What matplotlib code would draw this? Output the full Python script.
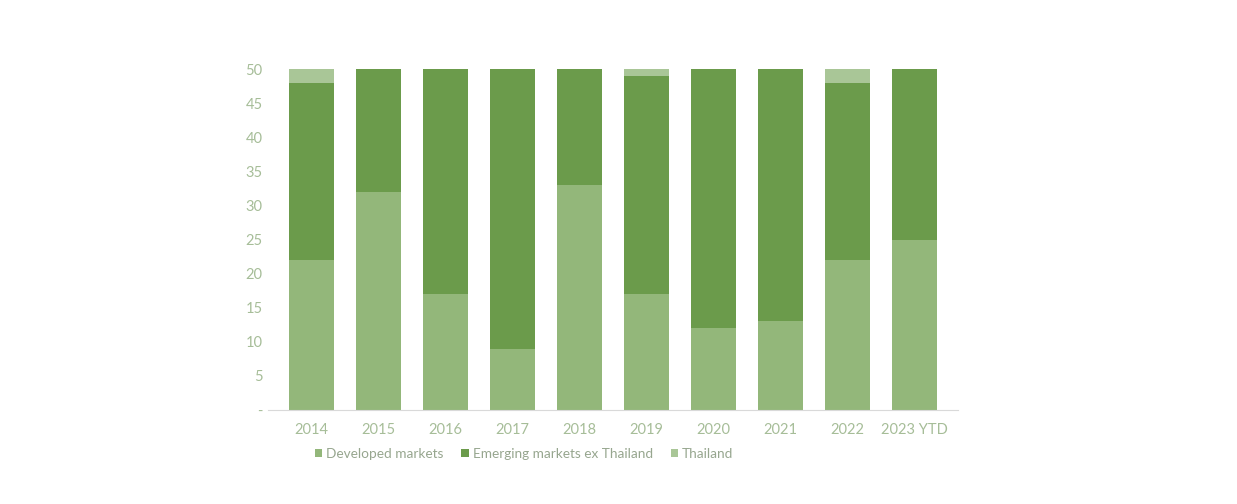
import matplotlib.pyplot as plt
import numpy as np

# Chart data
years = ['2014', '2015', '2016', '2017', '2018', '2019', '2020', '2021', '2022', '2023 YTD']
developed = [22, 32, 17, 9, 33, 17, 12, 13, 22, 25]
emerging = [26, 18, 33, 41, 17, 32, 38, 37, 26, 25]
thailand = [2, 0, 0, 0, 0, 1, 0, 0, 2, 0]

COL_DEV = '#93b77a'
COL_EM = '#6b9b4b'
COL_TH = '#a9c697'
TEXT_COL = '#a6bd98'

plt.rcParams['font.family'] = ['Lato', 'DejaVu Sans']

fig = plt.figure(figsize=(12.37, 5.04), dpi=100)
ax = fig.add_axes([0.2167, 0.1865, 0.5578, 0.6765])

x = np.arange(len(years))
w = 0.66
dev = np.array(developed)
em = np.array(emerging)
th = np.array(thailand)

ax.bar(x, dev, w, color=COL_DEV, label='Developed markets')
ax.bar(x, em, w, bottom=dev, color=COL_EM, label='Emerging markets ex Thailand')
ax.bar(x, th, w, bottom=dev + em, color=COL_TH, label='Thailand')

ax.set_xlim(-0.65, len(years) - 0.35)
ax.set_ylim(0, 50)
ax.set_yticks(range(0, 51, 5))
ax.set_yticklabels(['-'] + [str(v) for v in range(5, 51, 5)])
ax.set_xticks(x)
ax.set_xticklabels(years)

for s in ['top', 'right', 'left']:
    ax.spines[s].set_visible(False)
ax.spines['bottom'].set_color('#d9d9d9')
ax.tick_params(axis='both', length=0, labelsize=10.5, colors=TEXT_COL)
ax.tick_params(axis='x', pad=9)
ax.tick_params(axis='y', pad=4)

leg = ax.legend(loc='upper center', bbox_to_anchor=(0.371, -0.075), ncol=3, frameon=False,
                fontsize=9.8, handlelength=0.55, handleheight=0.55, handletextpad=0.3,
                columnspacing=1.3)
for t in leg.get_texts():
    t.set_color('#97a68f')

fig.savefig('out.png', dpi=100, facecolor='white')
